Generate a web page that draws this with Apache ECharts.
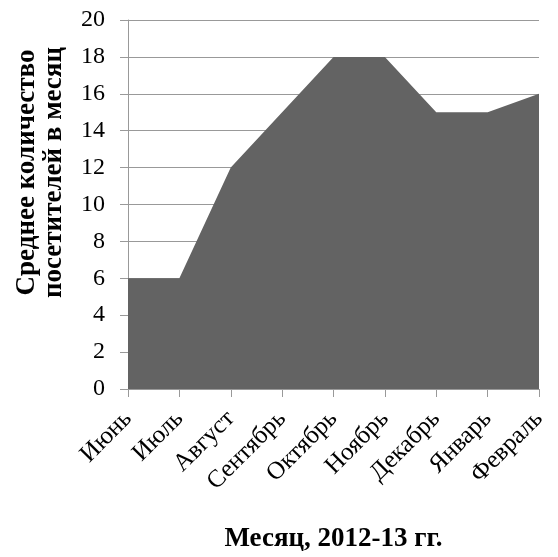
<!DOCTYPE html>
<html><head><meta charset="utf-8">
<script src="https://cdn.jsdelivr.net/npm/echarts@6/dist/echarts.min.js"></script>
<style>html,body{margin:0;padding:0;background:#fff}#c{width:558px;height:557px}</style>
</head><body><div id="c"></div>
<script>
const categories = ['Июнь','Июль','Август','Сентябрь','Октябрь','Ноябрь','Декабрь','Январь','Февраль'];
const visitors = [6, 6, 12, 15, 18, 18, 15, 15, 16];
const yTicks = [0, 2, 4, 6, 8, 10, 12, 14, 16, 18, 20];
const xTitle = 'Месяц, 2012-13 гг.';
const yTitle = 'Среднее количество\nпосетителей в месяц';
const font = '"Liberation Serif", "DejaVu Serif", serif';
const chart = echarts.init(document.getElementById('c'));
chart.setOption({
  animation: false,
  grid: { left: 128, right: 19, top: 20, bottom: 168, containLabel: false, outerBoundsMode: 'none' },
  xAxis: {
    type: 'category', data: categories, boundaryGap: false,
    name: xTitle, nameLocation: 'middle', nameGap: 137,
    nameTextStyle: { fontFamily: font, fontSize: 27, fontWeight: 'bold', color: '#000' },
    axisLine: { lineStyle: { color: '#999999', width: 1 } },
    axisTick: { show: true, length: 8, lineStyle: { color: '#999999' } },
    axisLabel: { rotate: 45, fontFamily: font, fontSize: 25, color: '#000', margin: 26, interval: 0 },
    splitLine: { show: false }
  },
  yAxis: {
    type: 'value', min: yTicks[0], max: yTicks[yTicks.length-1], interval: 2,
    name: yTitle, nameLocation: 'middle', nameGap: 60,
    nameTextStyle: { fontFamily: font, fontSize: 27, fontWeight: 'bold', color: '#000', lineHeight: 27, padding: [0, 0, 0, 64] },
    axisLine: { show: true, lineStyle: { color: '#999999', width: 1 } },
    axisTick: { show: true, length: 8, lineStyle: { color: '#999999' } },
    axisLabel: { fontFamily: font, fontSize: 24, color: '#000', margin: 23 },
    splitLine: { show: true, lineStyle: { color: '#999999', width: 1 } }
  },
  series: [{
    type: 'line', data: visitors, symbol: 'none',
    lineStyle: { width: 0 },
    areaStyle: { color: '#636363', opacity: 1 }
  }]
});
</script></body></html>
